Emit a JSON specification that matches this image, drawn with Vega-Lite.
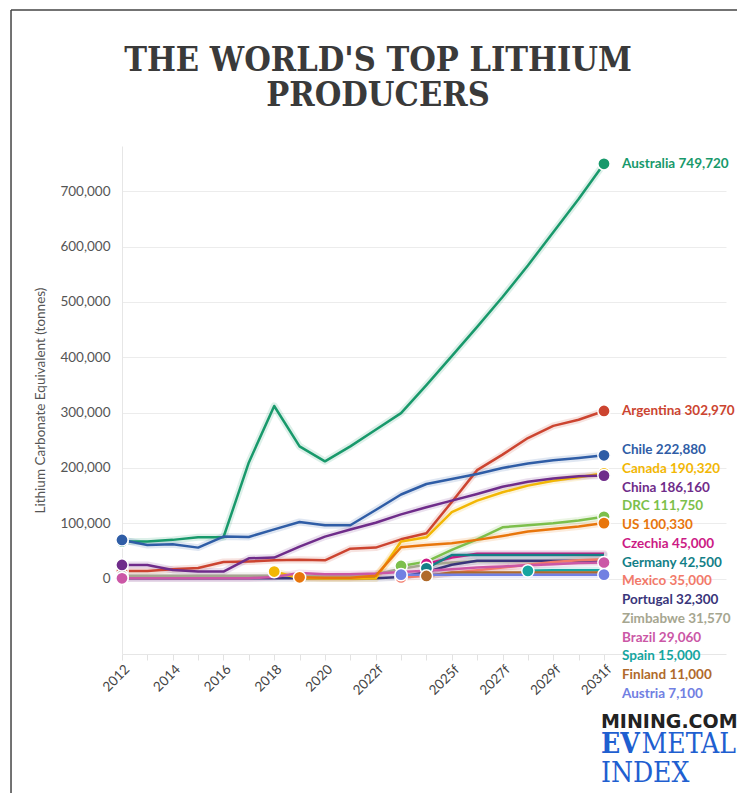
{
  "$schema": "https://vega.github.io/schema/vega-lite/v6.json",
  "width": 604,
  "height": 508,
  "autosize": {"type": "none"},
  "padding": {"left": 122, "top": 146, "right": 11, "bottom": 139},
  "background": "#ffffff",
  "config": {"view": {"stroke": null}},
  "title": {
    "text": ["THE WORLD'S TOP LITHIUM", "PRODUCERS"],
    "anchor": "middle",
    "frame": "group",
    "dx": -46,
    "font": "DejaVu Serif Condensed",
    "fontSize": 34,
    "fontWeight": "bold",
    "color": "#3a3a3a",
    "lineHeight": 35,
    "baseline": "bottom",
    "offset": -138
  },
  "datasets": {
    "lith": [
      {"country":"Australia","year":2012,"value":67000},{"country":"Australia","year":2013,"value":67000},{"country":"Australia","year":2014,"value":70000},{"country":"Australia","year":2015,"value":74700},{"country":"Australia","year":2016,"value":74700},{"country":"Australia","year":2017,"value":210000},{"country":"Australia","year":2018,"value":312000},{"country":"Australia","year":2019,"value":239000},{"country":"Australia","year":2020,"value":212000},{"country":"Australia","year":2021,"value":239000},{"country":"Australia","year":2022,"value":269000},{"country":"Australia","year":2023,"value":299000},{"country":"Australia","year":2024,"value":349600},{"country":"Australia","year":2025,"value":402000},{"country":"Australia","year":2026,"value":455000},{"country":"Australia","year":2027,"value":509000},{"country":"Australia","year":2028,"value":566000},{"country":"Australia","year":2029,"value":626000},{"country":"Australia","year":2030,"value":686000},{"country":"Australia","year":2031,"value":749720},
      {"country":"Argentina","year":2012,"value":13900},{"country":"Argentina","year":2013,"value":13900},{"country":"Argentina","year":2014,"value":16900},{"country":"Argentina","year":2015,"value":19000},{"country":"Argentina","year":2016,"value":30000},{"country":"Argentina","year":2017,"value":31000},{"country":"Argentina","year":2018,"value":33000},{"country":"Argentina","year":2019,"value":34000},{"country":"Argentina","year":2020,"value":33000},{"country":"Argentina","year":2021,"value":54000},{"country":"Argentina","year":2022,"value":56000},{"country":"Argentina","year":2023,"value":71000},{"country":"Argentina","year":2024,"value":82000},{"country":"Argentina","year":2025,"value":138500},{"country":"Argentina","year":2026,"value":196000},{"country":"Argentina","year":2027,"value":224000},{"country":"Argentina","year":2028,"value":254000},{"country":"Argentina","year":2029,"value":276000},{"country":"Argentina","year":2030,"value":287000},{"country":"Argentina","year":2031,"value":302970},
      {"country":"Zimbabwe","year":2012,"value":5000},{"country":"Zimbabwe","year":2013,"value":5000},{"country":"Zimbabwe","year":2014,"value":5000},{"country":"Zimbabwe","year":2015,"value":5000},{"country":"Zimbabwe","year":2016,"value":5000},{"country":"Zimbabwe","year":2017,"value":5000},{"country":"Zimbabwe","year":2018,"value":5000},{"country":"Zimbabwe","year":2019,"value":5000},{"country":"Zimbabwe","year":2020,"value":4000},{"country":"Zimbabwe","year":2021,"value":5000},{"country":"Zimbabwe","year":2022,"value":8000},{"country":"Zimbabwe","year":2023,"value":18000},{"country":"Zimbabwe","year":2024,"value":25000},{"country":"Zimbabwe","year":2025,"value":29000},{"country":"Zimbabwe","year":2026,"value":31570},{"country":"Zimbabwe","year":2027,"value":31570},{"country":"Zimbabwe","year":2028,"value":31570},{"country":"Zimbabwe","year":2029,"value":31570},{"country":"Zimbabwe","year":2030,"value":31570},{"country":"Zimbabwe","year":2031,"value":31570},
      {"country":"Portugal","year":2012,"value":500},{"country":"Portugal","year":2013,"value":500},{"country":"Portugal","year":2014,"value":500},{"country":"Portugal","year":2015,"value":500},{"country":"Portugal","year":2016,"value":500},{"country":"Portugal","year":2017,"value":500},{"country":"Portugal","year":2018,"value":500},{"country":"Portugal","year":2019,"value":500},{"country":"Portugal","year":2020,"value":500},{"country":"Portugal","year":2021,"value":500},{"country":"Portugal","year":2022,"value":500},{"country":"Portugal","year":2023,"value":3000},{"country":"Portugal","year":2024,"value":12000},{"country":"Portugal","year":2025,"value":25000},{"country":"Portugal","year":2026,"value":32300},{"country":"Portugal","year":2027,"value":32300},{"country":"Portugal","year":2028,"value":32300},{"country":"Portugal","year":2029,"value":32300},{"country":"Portugal","year":2030,"value":32300},{"country":"Portugal","year":2031,"value":32300},
      {"country":"Canada","year":2018,"value":12700},{"country":"Canada","year":2019,"value":500},{"country":"Canada","year":2020,"value":0},{"country":"Canada","year":2021,"value":0},{"country":"Canada","year":2022,"value":0},{"country":"Canada","year":2023,"value":67000},{"country":"Canada","year":2024,"value":74700},{"country":"Canada","year":2025,"value":120000},{"country":"Canada","year":2026,"value":141000},{"country":"Canada","year":2027,"value":156000},{"country":"Canada","year":2028,"value":168000},{"country":"Canada","year":2029,"value":177000},{"country":"Canada","year":2030,"value":183000},{"country":"Canada","year":2031,"value":190320},
      {"country":"DRC","year":2023,"value":22900},{"country":"DRC","year":2024,"value":30700},{"country":"DRC","year":2025,"value":51800},{"country":"DRC","year":2026,"value":71000},{"country":"DRC","year":2027,"value":92800},{"country":"DRC","year":2028,"value":96400},{"country":"DRC","year":2029,"value":100000},{"country":"DRC","year":2030,"value":105000},{"country":"DRC","year":2031,"value":111750},
      {"country":"Mexico","year":2023,"value":2000},{"country":"Mexico","year":2024,"value":5000},{"country":"Mexico","year":2025,"value":10000},{"country":"Mexico","year":2026,"value":15000},{"country":"Mexico","year":2027,"value":20000},{"country":"Mexico","year":2028,"value":25000},{"country":"Mexico","year":2029,"value":30000},{"country":"Mexico","year":2030,"value":33000},{"country":"Mexico","year":2031,"value":35000},
      {"country":"Czechia","year":2024,"value":26500},{"country":"Czechia","year":2025,"value":38000},{"country":"Czechia","year":2026,"value":45000},{"country":"Czechia","year":2027,"value":45000},{"country":"Czechia","year":2028,"value":45000},{"country":"Czechia","year":2029,"value":45000},{"country":"Czechia","year":2030,"value":45000},{"country":"Czechia","year":2031,"value":45000},
      {"country":"Germany","year":2024,"value":18700},{"country":"Germany","year":2025,"value":42500},{"country":"Germany","year":2026,"value":42500},{"country":"Germany","year":2027,"value":42500},{"country":"Germany","year":2028,"value":42500},{"country":"Germany","year":2029,"value":42500},{"country":"Germany","year":2030,"value":42500},{"country":"Germany","year":2031,"value":42500},
      {"country":"Spain","year":2028,"value":14000},{"country":"Spain","year":2029,"value":15000},{"country":"Spain","year":2030,"value":15000},{"country":"Spain","year":2031,"value":15000},
      {"country":"Brazil","year":2012,"value":500},{"country":"Brazil","year":2013,"value":500},{"country":"Brazil","year":2014,"value":500},{"country":"Brazil","year":2015,"value":500},{"country":"Brazil","year":2016,"value":500},{"country":"Brazil","year":2017,"value":800},{"country":"Brazil","year":2018,"value":3000},{"country":"Brazil","year":2019,"value":10000},{"country":"Brazil","year":2020,"value":8000},{"country":"Brazil","year":2021,"value":8000},{"country":"Brazil","year":2022,"value":9000},{"country":"Brazil","year":2023,"value":12000},{"country":"Brazil","year":2024,"value":14000},{"country":"Brazil","year":2025,"value":17000},{"country":"Brazil","year":2026,"value":20000},{"country":"Brazil","year":2027,"value":22000},{"country":"Brazil","year":2028,"value":24000},{"country":"Brazil","year":2029,"value":26000},{"country":"Brazil","year":2030,"value":28000},{"country":"Brazil","year":2031,"value":29060},
      {"country":"Finland","year":2024,"value":4800},{"country":"Finland","year":2025,"value":11000},{"country":"Finland","year":2026,"value":11000},{"country":"Finland","year":2027,"value":11000},{"country":"Finland","year":2028,"value":11000},{"country":"Finland","year":2029,"value":11000},{"country":"Finland","year":2030,"value":11000},{"country":"Finland","year":2031,"value":11000},
      {"country":"Chile","year":2012,"value":69900},{"country":"Chile","year":2013,"value":60800},{"country":"Chile","year":2014,"value":62000},{"country":"Chile","year":2015,"value":56000},{"country":"Chile","year":2016,"value":76000},{"country":"Chile","year":2017,"value":75300},{"country":"Chile","year":2018,"value":89000},{"country":"Chile","year":2019,"value":102400},{"country":"Chile","year":2020,"value":96400},{"country":"Chile","year":2021,"value":96400},{"country":"Chile","year":2022,"value":124000},{"country":"Chile","year":2023,"value":152000},{"country":"Chile","year":2024,"value":171000},{"country":"Chile","year":2025,"value":180000},{"country":"Chile","year":2026,"value":189000},{"country":"Chile","year":2027,"value":200000},{"country":"Chile","year":2028,"value":208000},{"country":"Chile","year":2029,"value":214000},{"country":"Chile","year":2030,"value":218000},{"country":"Chile","year":2031,"value":222880},
      {"country":"China","year":2012,"value":24700},{"country":"China","year":2013,"value":24700},{"country":"China","year":2014,"value":15700},{"country":"China","year":2015,"value":12700},{"country":"China","year":2016,"value":12700},{"country":"China","year":2017,"value":36700},{"country":"China","year":2018,"value":38000},{"country":"China","year":2019,"value":57800},{"country":"China","year":2020,"value":75900},{"country":"China","year":2021,"value":88600},{"country":"China","year":2022,"value":101000},{"country":"China","year":2023,"value":116000},{"country":"China","year":2024,"value":129000},{"country":"China","year":2025,"value":141000},{"country":"China","year":2026,"value":153000},{"country":"China","year":2027,"value":166000},{"country":"China","year":2028,"value":175000},{"country":"China","year":2029,"value":181000},{"country":"China","year":2030,"value":185000},{"country":"China","year":2031,"value":186160},
      {"country":"US","year":2019,"value":2400},{"country":"US","year":2020,"value":1500},{"country":"US","year":2021,"value":1500},{"country":"US","year":2022,"value":5000},{"country":"US","year":2023,"value":56600},{"country":"US","year":2024,"value":60800},{"country":"US","year":2025,"value":64000},{"country":"US","year":2026,"value":70000},{"country":"US","year":2027,"value":77000},{"country":"US","year":2028,"value":85000},{"country":"US","year":2029,"value":89800},{"country":"US","year":2030,"value":94000},{"country":"US","year":2031,"value":100330},
      {"country":"Austria","year":2023,"value":7100},{"country":"Austria","year":2024,"value":7100},{"country":"Austria","year":2025,"value":7100},{"country":"Austria","year":2026,"value":7100},{"country":"Austria","year":2027,"value":7100},{"country":"Austria","year":2028,"value":7100},{"country":"Austria","year":2029,"value":7100},{"country":"Austria","year":2030,"value":7100},{"country":"Austria","year":2031,"value":7100}
    ],
    "marker": [{"item": "logo"}]
  },
  "resolve": {"scale": {"x": "independent", "y": "independent"}},
  "layer": [
    {
      "data": {"name": "lith"},
      "encoding": {
        "x": {
          "field": "year", "type": "quantitative",
          "scale": {"domain": [2012, 2035.81], "nice": false, "zero": false},
          "axis": {
            "values": [2012,2013,2014,2015,2016,2017,2018,2019,2020,2021,2022,2023,2024,2025,2026,2027,2028,2029,2030,2031],
            "labelExpr": "indexof([2012,2014,2016,2018,2020], datum.value) >= 0 ? '' + datum.value : (indexof([2022,2025,2027,2029,2031], datum.value) >= 0 ? datum.value + 'f' : '')",
            "labelAngle": -45,
            "labelFont": "Lato", "labelFontSize": 13.5, "labelColor": "#444",
            "labelOverlap": false, "labelFlush": false,
            "tickColor": "#e2e2e2", "tickSize": 6,
            "domainColor": "#e6e6e6", "grid": false, "title": null
          }
        },
        "y": {
          "field": "value", "type": "quantitative",
          "scale": {"domain": [-136270, 781850], "nice": false, "zero": false},
          "axis": {
            "values": [0,100000,200000,300000,400000,500000,600000,700000],
            "format": ",",
            "labelExpr": "format(datum.value, ',')",
            "grid": true, "gridColor": "#ececec",
            "domainColor": "#e6e6e6", "ticks": false,
            "labelPadding": 12, "labelFont": "Lato", "labelFontSize": 13.5, "labelColor": "#555",
            "title": "Lithium Carbonate Equivalent (tonnes)",
            "titleFont": "Lato", "titleFontSize": 13.5, "titleFontWeight": "normal", "titleColor": "#555",
            "titlePadding": 12
          }
        }
      },
      "layer": [
        {
          "mark": {"type": "line", "strokeWidth": 7, "opacity": 0.15, "strokeCap": "round", "strokeJoin": "round"},
          "encoding": {
            "color": {
              "field": "country", "type": "nominal", "legend": null,
              "scale": {
                "domain": ["Australia","Argentina","Chile","Canada","China","DRC","US","Czechia","Germany","Mexico","Portugal","Zimbabwe","Brazil","Spain","Finland","Austria"],
                "range": ["#18996b","#cc4430","#2f5da6","#f2b705","#6f2c8a","#7cbf4b","#e8760c","#cc1a85","#137f87","#f27a6a","#39357a","#a6a690","#cb57a6","#16a5a0","#b06a2a","#7180e2"]
              }
            }
          }
        },
        {
          "mark": {"type": "line", "strokeWidth": 2.5, "strokeJoin": "round"},
          "encoding": {"color": {"field": "country", "type": "nominal", "legend": null}}
        },
        {
          "transform": [
            {"joinaggregate": [{"op": "min", "field": "year", "as": "firstYear"}], "groupby": ["country"]},
            {"filter": "datum.year == datum.firstYear"}
          ],
          "mark": {"type": "point", "filled": true, "size": 150, "opacity": 1, "stroke": "#ffffff", "strokeWidth": 1.5},
          "encoding": {"color": {"field": "country", "type": "nominal", "legend": null}}
        },
        {
          "transform": [{"filter": "datum.year == 2031 && indexof(['Australia','Argentina','Chile','Canada','China','DRC','US','Brazil','Austria'], datum.country) >= 0"}],
          "mark": {"type": "point", "filled": true, "size": 150, "opacity": 1, "stroke": "#ffffff", "strokeWidth": 1.5},
          "encoding": {"color": {"field": "country", "type": "nominal", "legend": null}}
        },
        {
          "transform": [
            {"filter": "datum.year == 2031 && (datum.country == 'Australia' || datum.country == 'Argentina')"},
            {"calculate": "datum.country + ' ' + format(datum.value, ',')", "as": "label"}
          ],
          "mark": {"type": "text", "align": "left", "baseline": "middle", "dx": 18, "font": "Lato", "fontSize": 13.5, "fontWeight": "bold"},
          "encoding": {"text": {"field": "label"}, "color": {"field": "country", "type": "nominal", "legend": null}}
        }
      ]
    },
    {
      "data": {"name": "lith"},
      "transform": [
        {"filter": "datum.year == 2031 && datum.country != 'Australia' && datum.country != 'Argentina'"},
        {"calculate": "datum.country + ' ' + format(datum.value, ',')", "as": "label"}
      ],
      "mark": {"type": "text", "align": "left", "baseline": "middle", "dx": 18, "font": "Lato", "fontSize": 13.5, "fontWeight": "bold"},
      "encoding": {
        "x": {"field": "year", "type": "quantitative", "axis": null, "scale": {"domain": [2012, 2035.81], "nice": false, "zero": false}},
        "y": {
          "field": "country", "type": "nominal", "axis": null,
          "scale": {"type": "point", "padding": 0, "domain": ["Chile","Canada","China","DRC","US","Czechia","Germany","Mexico","Portugal","Zimbabwe","Brazil","Spain","Finland","Austria"], "range": [304, 548]}
        },
        "text": {"field": "label"},
        "color": {"field": "country", "type": "nominal", "legend": null}
      }
    },
    {
      "data": {"name": "marker"},
      "layer": [
        {
          "mark": {"type": "rule", "color": "#444444", "strokeWidth": 1.5},
          "encoding": {
            "x": {"datum": 2007.625, "type": "quantitative", "axis": null, "scale": {"domain": [2012, 2035.81], "nice": false, "zero": false}},
            "y": {"datum": 1027650, "type": "quantitative", "axis": null, "scale": {"domain": [-136270, 781850], "nice": false, "zero": false}},
            "y2": {"datum": -420000}
          }
        },
        {
          "mark": {"type": "rule", "color": "#444444", "strokeWidth": 1.5},
          "encoding": {
            "x": {"datum": 2007.625, "type": "quantitative", "axis": null},
            "x2": {"datum": 2037.5},
            "y": {"datum": 1027650, "type": "quantitative", "axis": null}
          }
        },
        {
          "mark": {"type": "text", "text": "MINING.COM", "font": "DejaVu Sans", "fontWeight": "bold", "fontSize": 19, "align": "left", "baseline": "alphabetic", "color": "#222222"},
          "encoding": {"x": {"datum": 2030.88, "type": "quantitative", "axis": null}, "y": {"datum": -270560, "type": "quantitative", "axis": null}}
        },
        {
          "mark": {"type": "text", "text": "EV", "font": "DejaVu Serif Condensed", "fontWeight": "bold", "fontSize": 28, "align": "left", "baseline": "alphabetic", "color": "#1f5fd0"},
          "encoding": {"x": {"datum": 2030.88, "type": "quantitative", "axis": null}, "y": {"datum": -315740, "type": "quantitative", "axis": null}}
        },
        {
          "mark": {"type": "text", "text": "METAL", "font": "DejaVu Serif Condensed", "fontWeight": "normal", "fontSize": 28, "align": "right", "baseline": "alphabetic", "color": "#1f5fd0"},
          "encoding": {"x": {"datum": 2036.2, "type": "quantitative", "axis": null}, "y": {"datum": -315740, "type": "quantitative", "axis": null}}
        },
        {
          "mark": {"type": "text", "text": "INDEX", "font": "DejaVu Serif Condensed", "fontWeight": "normal", "fontSize": 28, "align": "left", "baseline": "alphabetic", "color": "#1f5fd0"},
          "encoding": {"x": {"datum": 2030.88, "type": "quantitative", "axis": null}, "y": {"datum": -367070, "type": "quantitative", "axis": null}}
        }
      ]
    }
  ]
}
